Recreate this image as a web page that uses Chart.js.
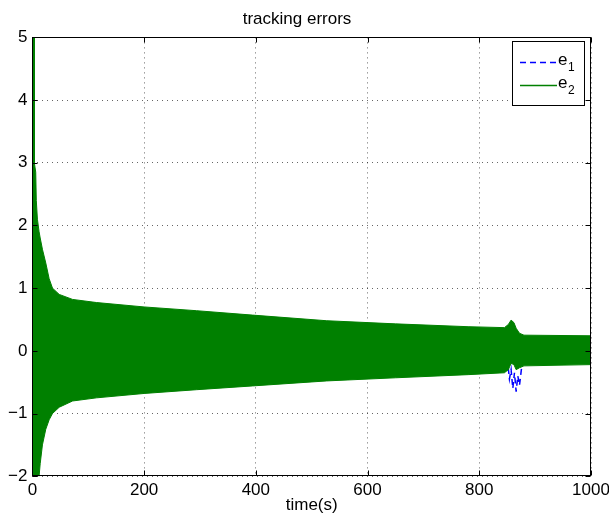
<!DOCTYPE html>
<html>
<head>
<meta charset="utf-8">
<script src="https://cdn.jsdelivr.net/npm/chart.js@4.4.1/dist/chart.umd.min.js"></script>
<style>
  html, body { margin: 0; padding: 0; background: #fff; }
  #wrap { width: 609px; height: 520px; }
</style>
</head>
<body>
<div id="wrap"><canvas id="c" width="609" height="520"></canvas></div>
<script>
// envelope of e2 (dense oscillation)
const envT    = [0, 3, 3.5, 6, 7, 9, 12, 14, 18, 24, 30, 36, 48, 72, 115, 200, 294, 394, 527, 650, 780, 845, 852, 857, 862, 866, 872, 880, 1000];
const e2Upper = [6, 5.5, 3.0, 2.85, 2.4, 2.1, 1.9, 1.8, 1.62, 1.4, 1.15, 1.0, 0.9, 0.82, 0.77, 0.70, 0.64, 0.57, 0.48, 0.43, 0.385, 0.37, 0.42, 0.49, 0.45, 0.36, 0.28, 0.25, 0.24];
const e2Lower = [-2.5, -2.5, -2.5, -2.5, -2.5, -2.5, -2.0, -1.8, -1.5, -1.25, -1.1, -1.0, -0.9, -0.8, -0.75, -0.68, -0.62, -0.56, -0.48, -0.43, -0.38, -0.35, -0.30, -0.20, -0.22, -0.30, -0.27, -0.24, -0.22];

// e1: visible only at the start and around t = 860
const e1T = [0, 0.5, 1.5, 3, 845, 851, 854, 857, 860, 863, 866, 869, 872, 876, 880, 1000];
const e1V = [2.0, -0.55, 0.3, 0, 0, -0.2, -0.45, -0.3, -0.6, -0.35, -0.65, -0.4, -0.55, -0.25, 0, 0];

const xTicks = [0, 200, 400, 600, 800, 1000];
const yTicks = [-2, -1, 0, 1, 2, 3, 4, 5];

const GREEN = '#008000';
const BLUE = '#0000ff';
const FONT = '"Liberation Sans", Arial, Helvetica, sans-serif';

Chart.defaults.font.family = FONT;
Chart.defaults.color = '#000';

const pts = (xs, ys) => xs.map((t, i) => ({ x: t, y: ys[i] }));
const fmt = v => (v < 0 ? '\u2212' + Math.abs(v) : String(v));

// box, inward ticks and legend like the original figure
const matlabAxes = {
  id: 'matlabAxes',
  afterDraw(chart) {
    const { ctx, chartArea: a, scales: { x, y } } = chart;
    const L = Math.round(a.left) + 0.5, R = Math.round(a.right) - 0.5;
    const T = Math.round(a.top) + 0.5, B = Math.round(a.bottom) - 0.5;
    ctx.save();
    ctx.strokeStyle = '#000';
    ctx.lineWidth = 1;
    ctx.beginPath();
    xTicks.forEach(v => {
      const px = Math.round(x.getPixelForValue(v)) + 0.5;
      ctx.moveTo(px, B); ctx.lineTo(px, B - 5);
      ctx.moveTo(px, T); ctx.lineTo(px, T + 5);
    });
    yTicks.forEach(v => {
      const py = Math.round(y.getPixelForValue(v)) + 0.5;
      ctx.moveTo(L, py); ctx.lineTo(L + 5, py);
      ctx.moveTo(R, py); ctx.lineTo(R - 5, py);
    });
    ctx.stroke();
    ctx.strokeRect(L, T, R - L, B - T);

    // legend
    const bx = 512.5, by = 41.5, bw = 72, bh = 64;
    ctx.fillStyle = '#fff';
    ctx.fillRect(bx, by, bw, bh);
    ctx.strokeRect(bx, by, bw, bh);
    const rows = [
      { c: BLUE, dash: [6, 4], sub: '1', yy: 62 },
      { c: GREEN, dash: [], sub: '2', yy: 85 }
    ];
    rows.forEach(r => {
      ctx.strokeStyle = r.c;
      ctx.lineWidth = 1.6;
      ctx.setLineDash(r.dash);
      ctx.beginPath();
      ctx.moveTo(520, r.yy + 0.5); ctx.lineTo(557, r.yy + 0.5);
      ctx.stroke();
      ctx.setLineDash([]);
      ctx.fillStyle = '#000';
      ctx.textBaseline = 'alphabetic';
      ctx.font = '17px ' + FONT;
      ctx.fillText('e', 558, r.yy + 3);
      ctx.font = '12px ' + FONT;
      ctx.fillText(r.sub, 568, r.yy + 9);
    });
    ctx.restore();
  }
};

new Chart(document.getElementById('c'), {
  type: 'line',
  data: {
    datasets: [
      {
        label: 'e2 upper',
        data: pts(envT, e2Upper),
        borderColor: GREEN,
        borderWidth: 1,
        pointRadius: 0,
        fill: false,
        tension: 0
      },
      {
        label: 'e2 lower',
        data: pts(envT, e2Lower),
        borderColor: GREEN,
        backgroundColor: GREEN,
        borderWidth: 1,
        pointRadius: 0,
        fill: '-1',
        tension: 0
      },
      {
        label: 'e1',
        data: pts(e1T, e1V),
        borderColor: BLUE,
        borderWidth: 1.5,
        borderDash: [6, 4],
        pointRadius: 0,
        fill: false,
        tension: 0
      }
    ]
  },
  options: {
    responsive: false,
    animation: false,
    layout: { padding: { left: 3, right: 18, top: 0, bottom: 4 } },
    plugins: {
      legend: { display: false },
      tooltip: { enabled: false },
      title: {
        display: true,
        text: 'tracking errors',
        font: { size: 17, weight: 'normal' },
        color: '#000',
        padding: { top: 9, bottom: 8 }
      }
    },
    scales: {
      x: {
        type: 'linear',
        min: 0,
        max: 1000,
        afterBuildTicks: s => { s.ticks = xTicks.map(v => ({ value: v })); },
        afterFit: s => { s.paddingRight = 0; s.paddingLeft = 0; },
        ticks: { font: { size: 17 }, padding: 4, maxRotation: 0, callback: fmt },
        grid: { color: 'rgba(0,0,0,0.6)', lineWidth: 1, drawTicks: false },
        border: { display: false, dash: [1, 4] },
        title: { display: true, text: 'time(s)', font: { size: 17 }, padding: { top: -9, bottom: 0 } }
      },
      y: {
        type: 'linear',
        min: -2,
        max: 5,
        afterBuildTicks: s => { s.ticks = yTicks.map(v => ({ value: v })); },
        ticks: { font: { size: 17 }, padding: 5, callback: fmt },
        grid: { color: 'rgba(0,0,0,0.6)', lineWidth: 1, drawTicks: false },
        border: { display: false, dash: [1, 4] }
      }
    }
  },
  plugins: [matlabAxes]
});
</script>
</body>
</html>
